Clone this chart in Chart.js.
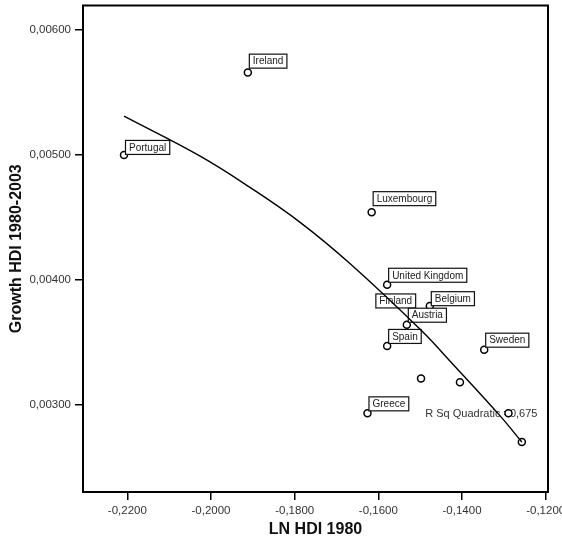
<!DOCTYPE html>
<html>
<head>
<meta charset="utf-8">
<script src="https://cdn.jsdelivr.net/npm/chart.js@4/dist/chart.umd.min.js"></script>
<style>
  html, body { margin: 0; padding: 0; background: #fff; }
</style>
</head>
<body>
<canvas id="hdiChart" width="562" height="543"></canvas>
<script>
// countries (blank = unlabelled case)
const countries = ['Portugal', 'Ireland', 'Luxembourg', 'United Kingdom', 'Finland', 'Belgium',
  'Austria', 'Spain', 'Sweden', '', '', 'Greece', '', ''];
const lnHdi1980 = [-0.2208, -0.1912, -0.1616, -0.1579, -0.1567, -0.1477,
  -0.1532, -0.1579, -0.1347, -0.1498, -0.1405, -0.1626, -0.1289, -0.1257];
const growthHdi = [0.00500, 0.00566, 0.00454, 0.00396, 0.00382, 0.00379,
  0.00364, 0.00347, 0.00344, 0.00321, 0.00318, 0.00293, 0.00293, 0.00270];

// quadratic fit line
const fitX = [-0.2208, -0.2026, -0.1907, -0.1787, -0.1668, -0.1496, -0.1429, -0.1309, -0.1257];
const fitY = [0.00531, 0.00499, 0.00474, 0.00446, 0.00413, 0.00359, 0.00335, 0.00291, 0.00270];
const rSqQuadratic = 0.675;

const xTicks = [-0.22, -0.20, -0.18, -0.16, -0.14, -0.12];
const yTicks = [0.003, 0.004, 0.005, 0.006];

const FONT = 'Arial, "Liberation Sans", sans-serif';

// nudges for a few label boxes [dx, dy]
const labelShift = {
  'Finland': [-17.8, 8.2],
  'Portugal': [0, 2],
  'Belgium': [0, 2.2],
  'Luxembourg': [0, -4.2],
  'Ireland': [0, -1.9]
};

const rSqText = {
  id: 'rSqText',
  beforeDatasetsDraw(chart) {
    const ctx = chart.ctx;
    const x = chart.scales.x.getPixelForValue(-0.1488);
    const y = chart.scales.y.getPixelForValue(0.002928);
    ctx.save();
    ctx.font = '11px ' + FONT;
    ctx.fillStyle = '#333';
    ctx.textBaseline = 'middle';
    ctx.fillText('R Sq Quadratic =' + rSqQuadratic.toFixed(3).replace('.', ','), x, y);
    ctx.restore();
  }
};

const labelBoxes = {
  id: 'labelBoxes',
  afterDatasetDraw(chart, args) {
    if (args.index !== 0) return;
    const ctx = chart.ctx;
    ctx.save();
    ctx.font = '10px ' + FONT;
    ctx.textBaseline = 'middle';
    args.meta.data.forEach((pt, i) => {
      const name = countries[i];
      if (!name) return;
      const off = labelShift[name] || [0, 0];
      const w = ctx.measureText(name).width + 7;
      const h = 14;
      const left = pt.x + 1.5 + off[0];
      const top = pt.y - 2.5 + off[1] - h;
      ctx.fillStyle = '#fff';
      ctx.fillRect(left, top, w, h);
      ctx.strokeStyle = '#111';
      ctx.lineWidth = 1.2;
      ctx.strokeRect(left, top, w, h);
      ctx.fillStyle = '#222';
      ctx.fillText(name, left + 3.5, top + h / 2 + 0.5);
    });
    ctx.restore();
  }
};

const frame = {
  id: 'frame',
  afterDraw(chart) {
    const a = chart.chartArea;
    const ctx = chart.ctx;
    ctx.save();
    ctx.strokeStyle = '#000';
    ctx.lineWidth = 2;
    ctx.strokeRect(a.left, a.top, a.right - a.left, a.bottom - a.top);
    ctx.restore();
  }
};

const ctx = document.getElementById('hdiChart').getContext('2d');
new Chart(ctx, {
  type: 'scatter',
  data: {
    datasets: [{
      label: 'Growth HDI',
      data: lnHdi1980.map((x, i) => ({ x: x, y: growthHdi[i] })),
      pointRadius: 3.5,
      pointBorderWidth: 1.5,
      pointBackgroundColor: '#fff',
      pointBorderColor: '#000',
      order: 1
    }, {
      label: 'Quadratic',
      data: fitX.map((x, i) => ({ x: x, y: fitY[i] })),
      showLine: true,
      borderColor: '#000',
      borderWidth: 1.4,
      pointRadius: 0,
      tension: 0.4,
      order: 0
    }]
  },
  options: {
    responsive: false,
    animation: false,
    events: [],
    layout: { padding: { top: 3, right: 14, left: 0, bottom: 0 } },
    plugins: { legend: { display: false }, tooltip: { enabled: false } },
    scales: {
      x: {
        type: 'linear',
        min: -0.2306,
        max: -0.11945,
        afterBuildTicks: s => { s.ticks = xTicks.map(v => ({ value: v })); },
        afterFit: s => { s.height = 51; s.paddingLeft = 0; s.paddingRight = 0; },
        border: { display: false },
        grid: { drawOnChartArea: false, drawTicks: true, tickLength: 8, color: '#000', lineWidth: 1.5 },
        ticks: {
          padding: 4, color: '#333', maxRotation: 0, autoSkip: false,
          font: { family: FONT, size: 11.5 },
          callback: v => v.toFixed(4).replace('.', ',')
        },
        title: {
          display: true, text: 'LN HDI 1980', color: '#111',
          font: { family: FONT, size: 16, weight: 'bold' },
          padding: { top: 0, bottom: 3.4 }
        }
      },
      y: {
        type: 'linear',
        min: 0.0023,
        max: 0.006197,
        afterBuildTicks: s => { s.ticks = yTicks.map(v => ({ value: v })); },
        afterFit: s => { s.width = 83; s.paddingTop = 0; s.paddingBottom = 0; },
        border: { display: false },
        grid: { drawOnChartArea: false, drawTicks: true, tickLength: 8, color: '#000', lineWidth: 1.5 },
        ticks: {
          padding: 4, color: '#333',
          font: { family: FONT, size: 11.5 },
          callback: v => v.toFixed(5).replace('.', ',')
        },
        title: {
          display: true, text: 'Growth HDI 1980-2003', color: '#111',
          font: { family: FONT, size: 16, weight: 'bold' },
          padding: { top: 7.4, bottom: 0 }
        }
      }
    }
  },
  plugins: [rSqText, labelBoxes, frame]
});
</script>
</body>
</html>
